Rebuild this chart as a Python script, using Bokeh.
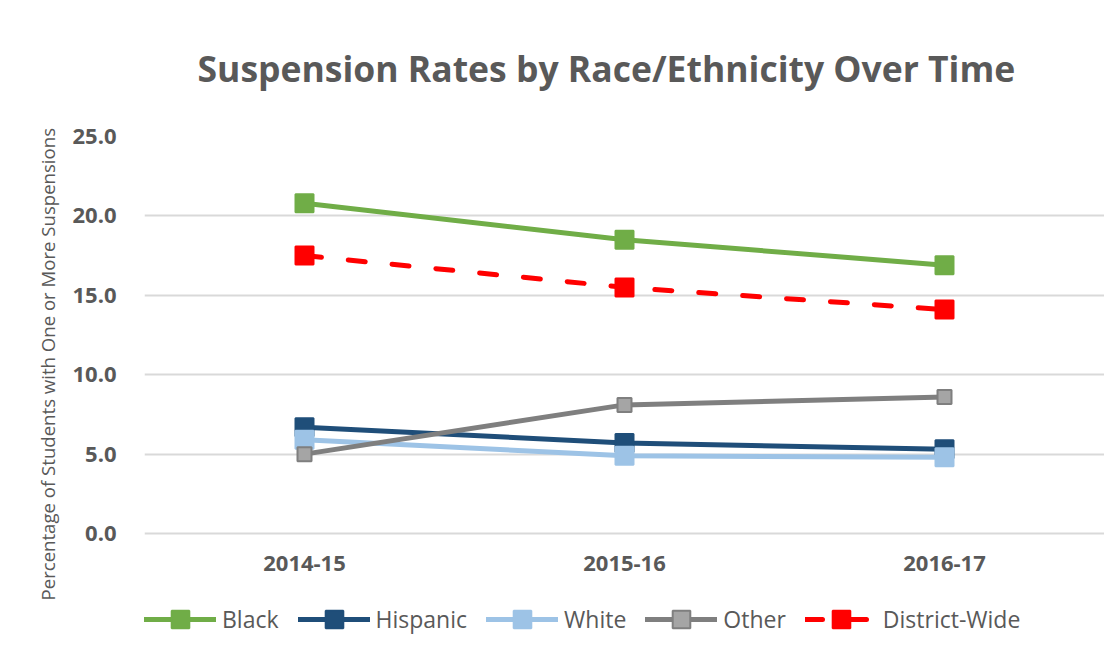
from bokeh.plotting import figure
from bokeh.models import (Range1d, FactorRange, FixedTicker, Legend, LegendItem,
                          Title, PrintfTickFormatter)
from bokeh.embed import file_html
from bokeh.resources import INLINE

years = ["2014-15", "2015-16", "2016-17"]
black = [20.8, 18.5, 16.9]
hispanic = [6.7, 5.7, 5.3]
white = [5.9, 4.9, 4.8]
other = [5.0, 8.1, 8.6]
district = [17.5, 15.5, 14.1]
y_ticks = [0, 5, 10, 15, 20, 25]

TXT = "#595959"
Y_BOTTOM = -8.12   # extra room under the 0 line for tick labels and legend

p = figure(width=1104, height=662, x_range=FactorRange(*years),
           y_range=Range1d(Y_BOTTOM, 25),
           output_backend="svg", toolbar_location=None,
           min_border_left=144, min_border_right=0, min_border_top=136, min_border_bottom=0)
p.outline_line_color = None
p.background_fill_color = "white"
p.border_fill_color = "white"

p.title.text = "Suspension Rates by Race/Ethnicity Over Time"
p.title.text_font = "Open Sans"
p.title.text_font_style = "bold"
p.title.text_font_size = "35.5px"
p.title.text_color = TXT
p.title.align = "left"
p.title.vertical_align = "top"
p.title.offset = 53
p.title.standoff = 86

p.xgrid.grid_line_color = None
p.ygrid.grid_line_color = "#D9D9D9"
p.ygrid.grid_line_width = 2
p.yaxis.ticker = FixedTicker(ticks=y_ticks)
p.yaxis.formatter = PrintfTickFormatter(format="%.1f")
p.xaxis.fixed_location = 0
for ax in (p.xaxis, p.yaxis):
    ax.axis_line_color = None
    ax.major_tick_line_color = None
    ax.minor_tick_line_color = None
    ax.major_tick_out = 0
    ax.major_tick_in = 0
    ax.major_label_text_font = "Open Sans"
    ax.major_label_text_font_style = "bold"
    ax.major_label_text_font_size = "22px"
    ax.major_label_text_color = TXT
p.yaxis.major_label_standoff = 28
p.xaxis.major_label_standoff = 22

series = [
    ("Black", black, "#70AD47", "#70AD47", "#70AD47", 18, "solid"),
    ("Hispanic", hispanic, "#1F4E79", "#1F4E79", "#1F4E79", 18, "solid"),
    ("White", white, "#9DC3E6", "#9DC3E6", "#9DC3E6", 18, "solid"),
    ("Other", other, "#7F7F7F", "#A5A5A5", "#7F7F7F", 14, "solid"),
    ("District-Wide", district, "#FF0000", "#FF0000", "#FF0000", 18, "17 27"),
]

items = []
for name, vals, lc, fc, mc, size, dash in series:
    ln = p.line(years, vals, line_color=lc, line_width=5, line_dash=dash, line_cap="round")
    mk = p.scatter(years, vals, marker="square", size=size, fill_color=fc, line_color=mc,
                   line_width=2)
    items.append(LegendItem(label=name, renderers=[ln, mk]))

legend = Legend(items=items, orientation="horizontal", location=(0, 21),
                border_line_color=None, background_fill_alpha=0, padding=0, margin=0,
                spacing=19, glyph_width=72, glyph_height=44, label_standoff=6,
                label_text_font="Open Sans", label_text_font_size="23px",
                label_text_color=TXT)
p.add_layout(legend)

ylab = Title(text="Percentage of Students with One or More Suspensions",
             align="left", offset=62, standoff=20,
             text_font="Open Sans", text_font_size="18.6px", text_font_style="normal",
             text_color=TXT)
p.add_layout(ylab, "left")

open("out.html", "w").write(file_html(p, INLINE))
